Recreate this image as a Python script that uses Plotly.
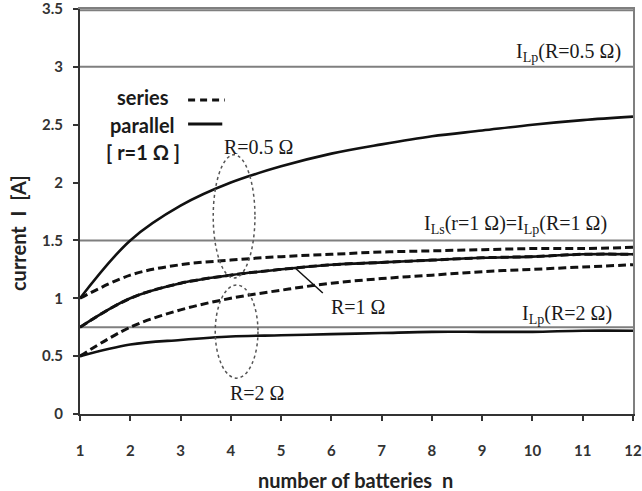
import plotly.graph_objects as go

n = [1, 2, 3, 4, 5, 6, 7, 8, 9, 10, 11, 12]
par_R05 = [1.00, 1.50, 1.80, 2.00, 2.14, 2.25, 2.33, 2.40, 2.45, 2.50, 2.54, 2.57]
par_R1 = [0.75, 1.00, 1.13, 1.20, 1.25, 1.29, 1.31, 1.33, 1.35, 1.36, 1.38, 1.38]
par_R2 = [0.50, 0.60, 0.64, 0.67, 0.68, 0.69, 0.70, 0.71, 0.71, 0.71, 0.72, 0.72]
ser_R05 = [1.00, 1.20, 1.29, 1.33, 1.36, 1.38, 1.40, 1.41, 1.42, 1.43, 1.43, 1.44]
ser_R1 = [0.75, 1.00, 1.13, 1.20, 1.25, 1.29, 1.31, 1.33, 1.35, 1.36, 1.38, 1.38]
ser_R2 = [0.50, 0.75, 0.90, 1.00, 1.07, 1.13, 1.17, 1.20, 1.23, 1.25, 1.27, 1.29]
limit_levels = [3.0, 1.5, 0.75]

x_ticks = list(range(1, 13))
y_ticks = [0, 0.5, 1, 1.5, 2, 2.5, 3, 3.5]
y_tick_text = ["0", "0.5", "1", "1.5", "2", "2.5", "3", "3.5"]

SANS = "Lato, 'Open Sans', sans-serif"
SERIF = "'Liberation Serif', 'DejaVu Serif', serif"
BLACK = "#111111"
GRAY = "#7f7f7f"
DASH = "8px,4px"

fig = go.Figure()

for ys in [par_R05, par_R1, par_R2]:
    fig.add_trace(go.Scatter(x=n, y=ys, mode="lines", line=dict(color=BLACK, width=2.6, shape="spline"),
                             showlegend=False, hoverinfo="skip"))
for ys in [ser_R05, ser_R1, ser_R2]:
    fig.add_trace(go.Scatter(x=n, y=ys, mode="lines", line=dict(color=BLACK, width=3, dash=DASH, shape="spline"),
                             showlegend=False, hoverinfo="skip"))
# invisible trace on the top/right frame axes so they are drawn
fig.add_trace(go.Scatter(x=[n[0]], y=[0], xaxis="x2", yaxis="y2", mode="markers",
                         marker=dict(opacity=0), showlegend=False, hoverinfo="skip"))

shapes = []
for lv in limit_levels:
    shapes.append(dict(type="line", xref="x", yref="y", x0=1, x1=12, y0=lv, y1=lv,
                       line=dict(color=GRAY, width=2), layer="below"))
# top frame line (just inside plot area)
shapes.append(dict(type="line", xref="paper", yref="paper", x0=0, x1=1, y0=0.997, y1=0.997,
                   line=dict(color=GRAY, width=2)))
# ellipses
shapes.append(dict(type="circle", xref="x", yref="y", x0=3.65, x1=4.48, y0=1.175, y1=2.24,
                   line=dict(color="#555555", width=1.5, dash="dot")))
shapes.append(dict(type="circle", xref="x", yref="y", x0=3.69, x1=4.54, y0=0.31, y1=1.115,
                   line=dict(color="#555555", width=1.5, dash="dot")))
# leader line for R=1
shapes.append(dict(type="line", xref="x", yref="y", x0=5.28, y0=1.262, x1=5.83, y1=1.046,
                   line=dict(color=BLACK, width=1.5)))
# legend marks
shapes.append(dict(type="line", xref="x", yref="y", x0=3.15, x1=3.88, y0=2.714, y1=2.714,
                   line=dict(color=BLACK, width=3, dash="7px,5px")))
shapes.append(dict(type="line", xref="x", yref="y", x0=3.15, x1=3.83, y0=2.506, y1=2.506,
                   line=dict(color=BLACK, width=3)))

ann = []
def txt(x, y, s, font, size, xanchor="center", bold=False):
    ann.append(dict(x=x, y=y, xref="x", yref="y", text=(f"<b>{s}</b>" if bold else s), showarrow=False,
                    xanchor=xanchor, yanchor="middle",
                    font=dict(family=font, size=size, color="#1a1a1a")))

txt(2.25, 2.74, "series", SANS, 20, bold=True)
txt(2.25, 2.498, "parallel", SANS, 20, bold=True)
txt(2.25, 2.264, "[ r=1 Ω ]", SANS, 20, bold=True)
txt(4.56, 2.308, "R=0.5 Ω", SERIF, 20)
txt(4.52, 0.181, "R=2 Ω", SERIF, 20)
txt(6.53, 0.925, "R=1 Ω", SERIF, 20)
txt(11.80, 3.12, "I<sub>Lp</sub>(R=0.5 Ω)", SERIF, 20, xanchor="right")
txt(11.52, 1.634, "I<sub>Ls</sub>(r=1 Ω)=I<sub>Lp</sub>(R=1 Ω)", SERIF, 20, xanchor="right")
txt(11.62, 0.856, "I<sub>Lp</sub>(R=2 Ω)", SERIF, 20, xanchor="right")

ann.append(dict(x=-0.112, y=0.447, xref="paper", yref="paper", text="<b>current  I  [A]</b>", textangle=-90,
                showarrow=False, xanchor="center", yanchor="middle",
                font=dict(family=SANS, size=20, color="#222222")))
ann.append(dict(x=0.499, y=-0.163, xref="paper", yref="paper", text="<b>number of batteries  n</b>",
                showarrow=False, xanchor="center", yanchor="middle",
                font=dict(family=SANS, size=20, color="#222222")))

fig.update_layout(
    width=642, height=491,
    margin=dict(l=80, r=9, t=9, b=77),
    paper_bgcolor="white", plot_bgcolor="white",
    shapes=shapes, annotations=ann,
    xaxis=dict(range=[1, 12], tickvals=x_ticks, showgrid=False, zeroline=False, automargin=False,
               showline=True, linecolor="#333333", linewidth=2,
               ticks="outside", ticklen=5, tickwidth=1.5, tickcolor="#333333",
               ticklabelstandoff=17, ticklabeloverflow="allow",
               tickfont=dict(family=SANS, size=15, color="#333333", weight="bold")),
    yaxis=dict(range=[0, 3.5], tickvals=y_ticks, ticktext=y_tick_text, showgrid=False, zeroline=False,
               automargin=False,
               showline=True, linecolor="#333333", linewidth=2,
               ticks="outside", ticklen=5, tickwidth=1.5, tickcolor="#333333",
               ticklabelstandoff=7, ticklabeloverflow="allow",
               tickfont=dict(family=SANS, size=15, color="#333333", weight="bold")),
    xaxis2=dict(overlaying="x", side="top", range=[1, 12], showline=True, linecolor=GRAY, linewidth=2,
                showgrid=False, zeroline=False, showticklabels=False, ticks="", automargin=False),
    yaxis2=dict(overlaying="y", side="right", range=[0, 3.5], showline=True, linecolor=GRAY, linewidth=2,
                showgrid=False, zeroline=False, showticklabels=False, ticks="", automargin=False),
)

fig.write_html("out.html")
